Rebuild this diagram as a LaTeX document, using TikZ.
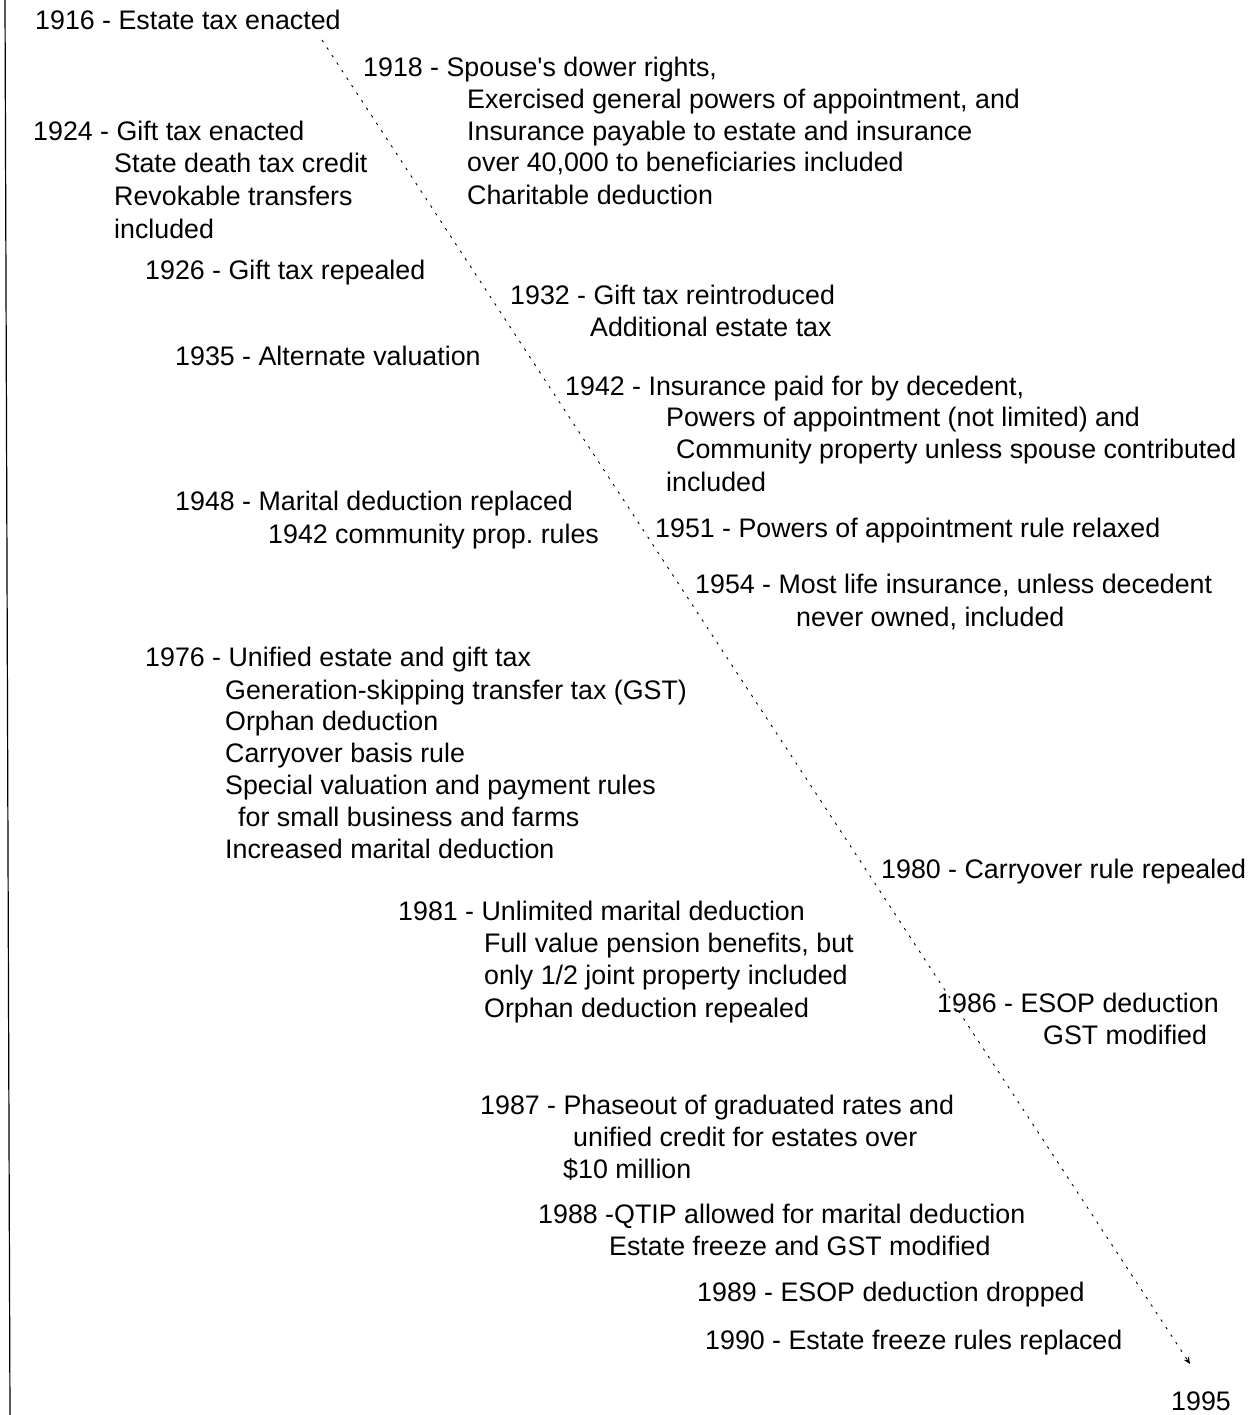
\documentclass[tikz,border=0pt]{standalone}
\usepackage{fontspec}
\setmainfont{Liberation Sans}
\usetikzlibrary{arrows.meta}
\frenchspacing
\begin{document}
\begin{tikzpicture}[x=1pt,y=-1pt,
  txt/.style={anchor=base west,inner sep=0pt,font=\fontsize{26.8}{32}\selectfont},
  timeline/.style={line width=0.9pt,dash pattern=on 2.5pt off 6.5pt,-{Stealth[length=7pt,width=6pt]}}]
\useasboundingbox (0,0) rectangle (1252,1415);
\draw[line width=1.2pt] (5,0) -- (10,1415);
\node[txt] (t1916) at (35,30) {1916 - Estate tax enacted};
\node[txt] (t1918a) at (363,77) {1918 - Spouse\textquotesingle s dower rights,};
\node[txt] (t1918b) at (467,109) {Exercised general powers of appointment, and};
\node[txt] (t1918c) at (467,141) {Insurance payable to estate and insurance};
\node[txt] (t1918d) at (467,172) {over 40,000 to beneficiaries included};
\node[txt] (t1918e) at (467,205) {Charitable deduction};
\node[txt] (t1924a) at (33,141) {1924 - Gift tax enacted};
\node[txt] (t1924b) at (114,173) {State death tax credit};
\node[txt] (t1924c) at (114,206) {Revokable transfers};
\node[txt] (t1924d) at (114,239) {included};
\node[txt] (t1926) at (145,279) {1926 - Gift tax repealed};
\node[txt] (t1932a) at (510,304) {1932 - Gift tax reintroduced};
\node[txt] (t1932b) at (590,336) {Additional estate tax};
\node[txt] (t1935) at (175,365) {1935 - Alternate valuation};
\node[txt] (t1942a) at (565,395) {1942 - Insurance paid for by decedent,};
\node[txt] (t1942b) at (666,426) {Powers of appointment (not limited) and};
\node[txt] (t1942c) at (676,458) {Community property unless spouse contributed};
\node[txt] (t1942d) at (666,491) {included};
\node[txt] (t1948a) at (175,510) {1948 - Marital deduction replaced};
\node[txt] (t1948b) at (268,543) {1942 community prop. rules};
\node[txt] (t1951) at (655,537) {1951 - Powers of appointment rule relaxed};
\node[txt] (t1954a) at (695,593) {1954 - Most life insurance, unless decedent};
\node[txt] (t1954b) at (796,626) {never owned, included};
\node[txt] (t1976a) at (145,666) {1976 - Unified estate and gift tax};
\node[txt] (t1976b) at (225,699) {Generation-skipping transfer tax (GST)};
\node[txt] (t1976c) at (225,730) {Orphan deduction};
\node[txt] (t1976d) at (225,762) {Carryover basis rule};
\node[txt] (t1976e) at (225,794) {Special valuation and payment rules};
\node[txt] (t1976f) at (238,826) {for small business and farms};
\node[txt] (t1976g) at (225,858) {Increased marital deduction};
\node[txt] (t1980) at (881,878) {1980 - Carryover rule repealed};
\node[txt] (t1981a) at (398,920) {1981 - Unlimited marital deduction};
\node[txt] (t1981b) at (484,952) {Full value pension benefits, but};
\node[txt] (t1981c) at (484,984) {only 1/2 joint property included};
\node[txt] (t1981d) at (484,1017) {Orphan deduction repealed};
\node[txt] (t1986a) at (937,1012) {1986 - ESOP deduction};
\node[txt] (t1986b) at (1043,1044) {GST modified};
\node[txt] (t1987a) at (480,1114) {1987 - Phaseout of graduated rates and};
\node[txt] (t1987b) at (573,1146) {unified credit for estates over};
\node[txt] (t1987c) at (563,1178) {\$10 million};
\node[txt] (t1988a) at (538,1223) {1988 -QTIP allowed for marital deduction};
\node[txt] (t1988b) at (609,1255) {Estate freeze and GST modified};
\node[txt] (t1989) at (697,1301) {1989 - ESOP deduction dropped};
\node[txt] (t1990) at (705,1349) {1990 - Estate freeze rules replaced};
\node[txt] (t1995) at (1171,1410) {1995};
\coordinate (lstart) at (322,40);
\coordinate (lend) at (1190,1364);
\draw[timeline] (lstart) -- (lend);
\end{tikzpicture}
\end{document}
